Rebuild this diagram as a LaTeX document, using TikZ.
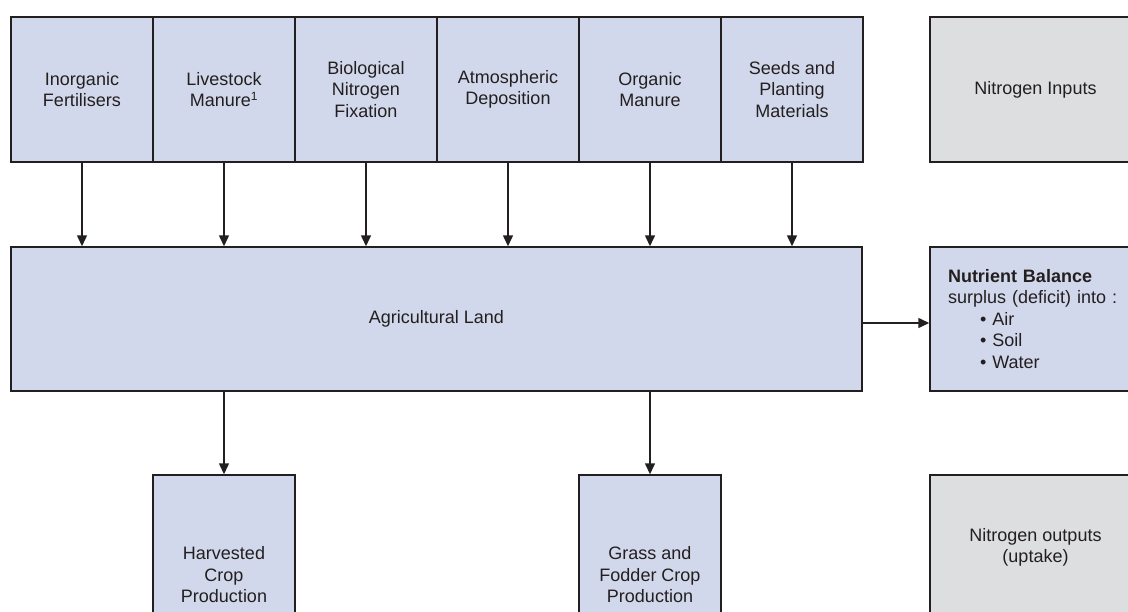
\documentclass[tikz,border=0pt]{standalone}
\usepackage{fontspec}
\setmainfont{Liberation Sans}
\usetikzlibrary{arrows.meta}
\definecolor{boxblue}{RGB}{210,216,235}
\definecolor{boxgray}{RGB}{221,222,224}
\definecolor{ink}{RGB}{35,31,32}
\tikzset{
  base/.style={draw=ink, line width=1.5pt, text=ink, align=center, inner sep=0pt,
    font=\fontsize{18}{21.5}\selectfont},
  topbox/.style={base, fill=boxblue, minimum width=142pt, minimum height=145pt},
  landbox/.style={base, fill=boxblue, minimum width=851pt, minimum height=144pt},
  outbox/.style={base, fill=boxblue, minimum width=142pt, minimum height=200pt},
  graybox/.style={base, fill=boxgray, minimum width=211pt, minimum height=145pt},
  arr/.style={draw=ink, line width=1.5pt, -{Triangle[length=11pt,width=10pt]}}
}
\begin{document}
\begin{tikzpicture}[x=1pt,y=-1pt]
\useasboundingbox (0,0) rectangle (1128,611);
\clip (0,0) rectangle (1128,611);
\fill[white] (0,0) rectangle (1128,611);
% top row
\node[topbox] (b1) at (82,89.5) {Inorganic\\Fertilisers};
\node[topbox] (b2) at (224,89.5) {Livestock\\Manure\textsuperscript{\fontsize{12}{12}\selectfont 1}};
\node[topbox] (b3) at (366,89.5) {Biological\\Nitrogen\\Fixation};
\node[topbox] (b4) at (508,89.5) {Atmospheric\\Deposition};
\node[topbox] (b5) at (650,89.5) {Organic\\Manure};
\node[topbox] (b6) at (792,89.5) {Seeds and\\Planting\\Materials};
\node[graybox] (nin) at (1035.5,89.5) {Nitrogen Inputs};
% middle
\node[landbox] (land) at (436.5,319) {Agricultural Land};
\node[base, fill=boxblue, minimum width=211pt, minimum height=144pt,
  text width=175pt, inner xsep=18pt, align=left] (nb) at (1035.5,319)
  {\textbf{Nutrient Balance}\\surplus (deficit) into :\\
   \hspace*{32pt}\textbullet\ Air\\
   \hspace*{32pt}\textbullet\ Soil\\
   \hspace*{32pt}\textbullet\ Water};
% bottom
\node[outbox] (hc) at (224,575) {Harvested\\Crop\\Production};
\node[outbox] (gf) at (650,575) {Grass and\\Fodder Crop\\Production};
\node[graybox] (nout) at (1035.5,547.5) {Nitrogen outputs\\(uptake)};
% arrows
\foreach \b in {b1,b2,b3,b4,b5,b6}
  \draw[arr] (\b.south) -- (\b.south |- land.north);
\draw[arr] (hc.north |- land.south) -- (hc.north);
\draw[arr] (gf.north |- land.south) -- (gf.north);
\draw[arr] ([yshift=-4pt]land.east) -- ([yshift=-4pt]land.east -| nb.west);
\end{tikzpicture}
\end{document}
